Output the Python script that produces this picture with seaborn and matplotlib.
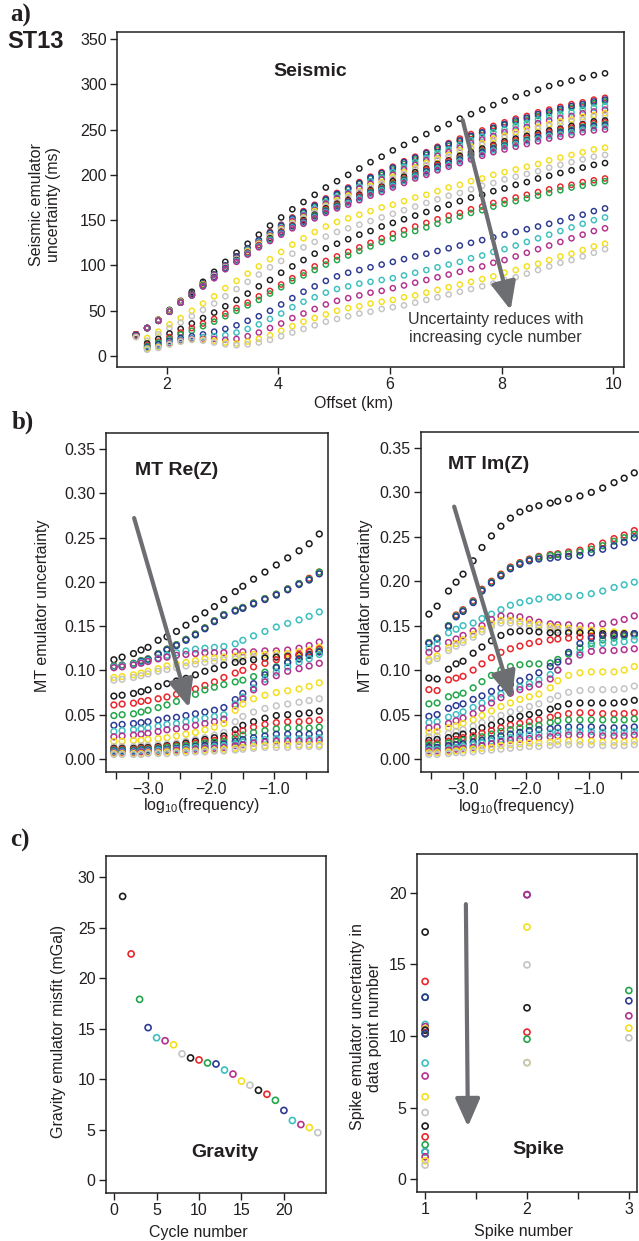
import pandas as pd
import matplotlib
matplotlib.use("Agg")
import matplotlib.pyplot as plt
import seaborn as sns

# colour of each cycle (R default palette, repeats every 8 cycles)
palette8 = ["#1c1c1c", "#e8262b", "#22a64a", "#2c3a92",
            "#3dbfc0", "#b3318e", "#f3df1f", "#c4c4c4"]

# ---- a) seismic emulator uncertainty (ms) per cycle --------------------
seis_offset = [1.45, 1.65, 1.85, 2.05, 2.25, 2.45, 2.65, 2.85, 3.05, 3.25, 3.45,
               3.65, 3.85, 4.05, 4.25, 4.45, 4.65, 4.85, 5.05, 5.25, 5.45, 5.65,
               5.85, 6.05, 6.25, 6.45, 6.65, 6.85, 7.05, 7.25, 7.45, 7.65, 7.85,
               8.05, 8.25, 8.45, 8.65, 8.85, 9.05, 9.25, 9.45, 9.65, 9.85]
seis_c01 = [24, 31, 40, 51, 61, 71, 82, 93, 104, 114, 124, 134, 144, 153, 162, 170, 178, 186, 193, 200, 207, 214, 220, 227, 233, 239, 245, 251, 256, 262, 267, 272, 277, 282, 286, 290, 294, 298, 301, 304, 307, 310, 312]
seis_c02 = [24, 31, 40, 50, 60, 69, 80, 90, 100, 110, 119, 128, 137, 145, 153, 160, 167, 174, 180, 186, 192, 198, 203, 209, 215, 220, 225, 231, 235, 240, 245, 249, 254, 258, 262, 265, 269, 272, 275, 278, 280, 283, 285]
seis_c03 = [24, 31, 40, 50, 60, 69, 80, 90, 100, 109, 118, 127, 136, 144, 152, 158, 165, 172, 178, 184, 190, 196, 200, 206, 212, 217, 222, 228, 232, 237, 242, 246, 251, 255, 258, 261, 265, 268, 271, 274, 276, 279, 281]
seis_c04 = [24, 31, 40, 50, 60, 69, 80, 90, 100, 110, 119, 128, 136, 144, 152, 159, 166, 173, 179, 185, 191, 197, 202, 208, 214, 219, 224, 230, 234, 238, 243, 247, 252, 256, 260, 263, 267, 270, 273, 276, 278, 281, 283]
seis_c05 = [24, 31, 40, 50, 60, 68, 79, 89, 99, 108, 117, 126, 134, 142, 150, 156, 163, 170, 176, 181, 187, 193, 197, 203, 209, 214, 219, 224, 228, 233, 238, 242, 247, 250, 254, 257, 261, 264, 267, 269, 272, 274, 276]
seis_c06 = [24, 31, 40, 50, 60, 68, 79, 89, 99, 108, 116, 125, 133, 141, 149, 155, 161, 168, 174, 179, 185, 190, 195, 200, 206, 211, 216, 221, 225, 230, 235, 239, 243, 247, 250, 253, 257, 260, 263, 265, 268, 270, 272]
seis_c07 = [24, 31, 40, 50, 60, 68, 79, 88, 98, 107, 116, 124, 132, 140, 147, 153, 160, 166, 172, 177, 182, 188, 192, 198, 203, 208, 213, 218, 222, 227, 231, 235, 240, 243, 247, 250, 253, 256, 259, 261, 264, 266, 268]
seis_c08 = [24, 31, 39, 49, 59, 68, 78, 88, 98, 107, 115, 123, 131, 139, 146, 152, 158, 165, 170, 175, 181, 186, 190, 196, 201, 206, 211, 216, 220, 225, 229, 233, 237, 241, 244, 247, 251, 254, 256, 259, 261, 264, 265]
seis_c09 = [24, 31, 39, 49, 59, 68, 78, 87, 97, 106, 114, 122, 130, 137, 144, 150, 156, 163, 168, 172, 178, 183, 187, 193, 198, 203, 207, 212, 216, 221, 225, 229, 233, 237, 240, 243, 246, 249, 251, 254, 256, 259, 260]
seis_c10 = [24, 31, 39, 49, 59, 67, 78, 87, 97, 105, 114, 122, 129, 137, 144, 149, 155, 162, 167, 171, 177, 182, 186, 191, 196, 201, 206, 211, 215, 219, 223, 227, 232, 235, 238, 241, 244, 247, 250, 252, 255, 257, 258]
seis_c11 = [24, 31, 39, 49, 59, 67, 78, 87, 97, 105, 113, 121, 129, 136, 143, 148, 155, 161, 166, 170, 175, 181, 185, 190, 195, 200, 204, 209, 213, 218, 222, 226, 230, 233, 236, 239, 242, 245, 248, 250, 253, 255, 256]
seis_c12 = [24, 31, 39, 49, 59, 67, 77, 87, 97, 105, 113, 121, 128, 136, 143, 148, 154, 160, 165, 170, 175, 180, 184, 189, 194, 199, 204, 209, 213, 217, 221, 225, 229, 232, 235, 238, 242, 245, 247, 249, 252, 254, 255]
seis_c13 = [24, 31, 39, 49, 59, 67, 77, 86, 96, 105, 113, 121, 128, 135, 142, 147, 153, 159, 164, 169, 174, 179, 183, 188, 193, 198, 202, 207, 211, 215, 219, 223, 227, 231, 234, 237, 240, 243, 245, 247, 250, 252, 253]
seis_c14 = [24, 31, 39, 49, 59, 67, 77, 86, 96, 104, 112, 120, 127, 134, 141, 146, 152, 158, 163, 167, 172, 177, 181, 186, 191, 196, 200, 205, 209, 213, 217, 221, 225, 228, 231, 234, 237, 240, 242, 244, 247, 249, 250]
seis_c15 = [24, 20, 27, 35, 42, 50, 58, 66, 75, 83, 91, 99, 107, 115, 123, 130, 137, 143, 148, 152, 156, 160, 164, 167, 171, 175, 178, 182, 186, 189, 193, 196, 200, 203, 206, 209, 212, 216, 219, 222, 225, 228, 230]
seis_c16 = [24, 17, 24, 31, 37, 44, 51, 58, 66, 74, 82, 90, 98, 105, 113, 120, 126, 132, 137, 141, 145, 149, 153, 157, 161, 165, 169, 173, 177, 180, 184, 188, 191, 195, 198, 201, 204, 208, 211, 214, 217, 220, 222]
seis_c17 = [24, 14, 19, 25, 30, 36, 42, 48, 55, 62, 69, 77, 84, 92, 99, 106, 113, 119, 124, 129, 134, 138, 143, 147, 151, 155, 159, 163, 167, 171, 175, 178, 182, 185, 189, 192, 196, 199, 202, 205, 208, 211, 213]
seis_c18 = [24, 12, 16, 21, 26, 31, 36, 41, 47, 53, 59, 66, 72, 79, 86, 92, 99, 105, 110, 115, 120, 125, 130, 135, 139, 143, 147, 151, 155, 158, 162, 165, 169, 172, 175, 178, 181, 184, 187, 189, 192, 194, 196]
seis_c19 = [23, 11, 15, 19, 24, 28, 33, 38, 44, 50, 56, 62, 69, 76, 83, 89, 95, 101, 106, 111, 116, 121, 126, 130, 134, 138, 142, 146, 150, 154, 158, 161, 165, 168, 171, 174, 177, 180, 183, 186, 188, 191, 193]
seis_c20 = [23, 10, 13, 17, 20, 22, 24, 27, 30, 34, 39, 44, 50, 57, 64, 71, 77, 83, 88, 92, 95, 98, 101, 104, 107, 110, 113, 116, 119, 122, 125, 128, 131, 134, 137, 140, 143, 146, 149, 153, 156, 160, 163]
seis_c21 = [22, 9, 11, 15, 18, 20, 21, 22, 23, 26, 30, 35, 41, 47, 54, 60, 65, 70, 74, 77, 80, 82, 84, 86, 89, 92, 95, 98, 101, 104, 108, 111, 115, 118, 122, 126, 130, 134, 138, 142, 146, 150, 153]
seis_c22 = [22, 8, 10, 14, 17, 19, 19, 19, 18, 19, 22, 26, 31, 36, 42, 47, 52, 57, 61, 64, 67, 70, 72, 75, 78, 81, 84, 87, 90, 93, 96, 99, 103, 106, 110, 114, 118, 122, 126, 130, 134, 138, 141]
seis_c23 = [21, 8, 10, 13, 16, 18, 18, 17, 15, 14, 16, 19, 23, 28, 33, 38, 42, 46, 50, 53, 55, 58, 60, 62, 65, 67, 70, 73, 76, 79, 82, 85, 88, 92, 95, 99, 102, 106, 110, 113, 117, 121, 124]
seis_c24 = [21, 7, 9, 13, 16, 18, 17, 15, 13, 12, 13, 15, 18, 22, 26, 30, 34, 38, 41, 44, 47, 49, 52, 54, 56, 59, 62, 65, 68, 71, 74, 77, 80, 84, 87, 91, 95, 99, 103, 106, 110, 114, 118]

# ---- b) MT emulator uncertainty per cycle ------------------------------
mt_logf = [-3.54, -3.41, -3.23, -3.11, -3.00, -2.84, -2.70, -2.55, -2.40, -2.25, -2.10,
           -1.95, -1.80, -1.62, -1.50, -1.33, -1.15, -0.97, -0.79, -0.61, -0.45, -0.29]
re_c01 = [.112, .115, .119, .123, .126, .134, .138, .144, .151, .158, .165, .172, .180, .189, .195, .203, .211, .219, .227, .235, .243, .254]
re_c02 = [.105, .106, .108, .111, .113, .119, .124, .129, .135, .141, .148, .156, .163, .168, .171, .176, .181, .186, .192, .198, .204, .211]
re_c03 = [.105, .106, .108, .111, .113, .119, .124, .129, .135, .141, .148, .156, .163, .168, .171, .176, .181, .186, .192, .198, .203, .211]
re_c04 = [.104, .105, .107, .110, .112, .118, .123, .128, .134, .140, .147, .155, .162, .167, .170, .175, .180, .185, .191, .197, .202, .209]
re_c05 = [.104, .105, .107, .109, .111, .114, .117, .120, .122, .124, .125, .126, .127, .130, .134, .139, .144, .149, .153, .157, .161, .166]
re_c06 = [.103, .104, .106, .108, .110, .113, .115, .117, .118, .119, .120, .120, .120, .121, .121, .121, .122, .122, .123, .125, .128, .132]
re_c07 = [.092, .093, .095, .097, .099, .102, .105, .107, .109, .111, .113, .114, .115, .116, .117, .118, .118, .119, .119, .121, .123, .126]
re_c08 = [.089, .090, .092, .094, .096, .099, .101, .103, .105, .107, .109, .110, .112, .113, .114, .115, .115, .116, .117, .118, .120, .123]
re_c09 = [.071, .072, .074, .076, .078, .082, .085, .088, .091, .095, .099, .102, .106, .109, .110, .112, .114, .115, .116, .117, .118, .121]
re_c10 = [.061, .062, .063, .065, .066, .068, .070, .073, .076, .079, .083, .087, .092, .097, .100, .104, .108, .112, .115, .118, .121, .124]
re_c11 = [.049, .050, .051, .053, .055, .058, .061, .065, .069, .073, .078, .081, .084, .087, .089, .093, .098, .104, .109, .113, .117, .122]
re_c12 = [.038, .039, .040, .041, .042, .044, .046, .047, .049, .051, .053, .055, .058, .067, .074, .085, .095, .103, .109, .113, .117, .121]
re_c13 = [.031, .032, .033, .034, .035, .037, .039, .040, .042, .044, .046, .048, .050, .062, .070, .080, .090, .098, .104, .109, .113, .118]
re_c14 = [.025, .026, .027, .028, .029, .031, .033, .034, .036, .038, .040, .042, .045, .060, .068, .078, .087, .094, .099, .102, .105, .108]
re_c15 = [.020, .020, .021, .021, .022, .023, .024, .026, .028, .030, .033, .036, .040, .055, .062, .068, .072, .075, .077, .079, .082, .086]
re_c16 = [.014, .014, .014, .015, .015, .016, .017, .018, .020, .022, .024, .027, .030, .042, .048, .053, .057, .060, .062, .064, .066, .068]
re_c17 = [.012, .012, .012, .013, .013, .014, .015, .016, .018, .020, .022, .024, .026, .033, .038, .042, .046, .049, .050, .051, .052, .054]
re_c18 = [.011, .011, .011, .012, .012, .013, .014, .015, .016, .018, .020, .021, .023, .028, .032, .036, .039, .041, .042, .042, .043, .044]
re_c19 = [.010, .010, .010, .011, .011, .012, .013, .014, .015, .016, .018, .019, .020, .024, .027, .030, .032, .034, .035, .035, .035, .036]
re_c20 = [.009, .009, .009, .010, .010, .011, .011, .012, .013, .014, .015, .016, .017, .020, .022, .024, .026, .028, .028, .028, .028, .029]
re_c21 = [.008, .008, .008, .009, .009, .010, .010, .011, .012, .013, .013, .014, .015, .017, .019, .021, .022, .023, .023, .023, .023, .024]
re_c22 = [.007, .007, .007, .008, .008, .008, .009, .010, .010, .011, .012, .012, .013, .015, .016, .018, .019, .020, .020, .020, .020, .021]
re_c23 = [.006, .006, .006, .006, .007, .007, .008, .008, .009, .009, .010, .010, .011, .012, .013, .014, .015, .016, .016, .016, .016, .016]
re_c24 = [.005, .005, .005, .005, .006, .006, .006, .007, .007, .008, .008, .009, .009, .010, .011, .012, .013, .013, .013, .014, .014, .014]

im_c01 = [.163, .172, .189, .199, .208, .223, .238, .251, .262, .271, .278, .282, .285, .288, .290, .293, .296, .300, .305, .311, .316, .322]
im_c02 = [.131, .136, .150, .162, .168, .178, .191, .200, .208, .216, .221, .225, .228, .230, .231, .233, .235, .239, .243, .248, .252, .257]
im_c03 = [.131, .136, .150, .161, .167, .177, .190, .199, .207, .215, .220, .224, .227, .229, .230, .231, .233, .236, .240, .245, .249, .253]
im_c04 = [.130, .135, .149, .160, .166, .176, .189, .198, .206, .214, .219, .223, .225, .226, .227, .228, .229, .232, .236, .240, .244, .249]
im_c05 = [.125, .130, .142, .146, .150, .153, .158, .163, .168, .173, .176, .178, .180, .182, .182, .183, .184, .186, .189, .193, .196, .199]
im_c06 = [.120, .124, .131, .135, .139, .144, .150, .157, .161, .161, .160, .157, .154, .152, .151, .151, .150, .150, .152, .154, .157, .161]
im_c07 = [.112, .116, .125, .130, .134, .140, .146, .152, .156, .156, .155, .153, .151, .149, .148, .147, .146, .145, .144, .143, .142, .141]
im_c08 = [.110, .113, .122, .127, .131, .137, .143, .149, .153, .153, .152, .150, .148, .146, .145, .144, .143, .142, .141, .140, .139, .138]
im_c09 = [.091, .090, .101, .107, .110, .119, .126, .133, .139, .143, .144, .144, .143, .142, .142, .142, .142, .142, .141, .141, .141, .141]
im_c10 = [.078, .077, .089, .091, .093, .100, .107, .114, .120, .124, .127, .130, .132, .134, .135, .136, .137, .138, .139, .139, .140, .140]
im_c11 = [.062, .063, .070, .072, .074, .080, .087, .094, .100, .104, .106, .107, .107, .108, .112, .118, .125, .130, .134, .136, .138, .140]
im_c12 = [.048, .050, .057, .060, .062, .067, .071, .076, .080, .084, .088, .092, .097, .104, .109, .120, .130, .136, .139, .139, .140, .141]
im_c13 = [.041, .042, .047, .050, .053, .058, .063, .068, .073, .077, .081, .085, .089, .095, .100, .110, .120, .127, .130, .131, .132, .134]
im_c14 = [.035, .036, .040, .043, .046, .051, .057, .063, .069, .074, .078, .081, .084, .090, .100, .110, .117, .121, .122, .122, .123, .124]
im_c15 = [.030, .031, .035, .037, .040, .044, .049, .054, .059, .063, .067, .070, .073, .080, .088, .094, .097, .098, .098, .098, .100, .104]
im_c16 = [.025, .026, .029, .031, .033, .037, .041, .045, .049, .053, .056, .059, .062, .067, .071, .075, .077, .078, .078, .078, .079, .082]
im_c17 = [.021, .022, .024, .026, .028, .031, .035, .038, .042, .045, .048, .050, .052, .056, .059, .062, .063, .063, .063, .063, .064, .066]
im_c18 = [.018, .018, .020, .022, .024, .026, .029, .032, .035, .038, .040, .042, .044, .047, .049, .051, .052, .052, .051, .051, .051, .052]
im_c19 = [.016, .016, .018, .019, .021, .023, .025, .028, .031, .033, .035, .037, .038, .041, .043, .044, .044, .044, .044, .044, .044, .045]
im_c20 = [.013, .013, .015, .016, .017, .019, .021, .023, .026, .028, .030, .032, .033, .034, .035, .036, .036, .036, .035, .035, .035, .036]
im_c21 = [.011, .011, .012, .013, .014, .016, .018, .020, .022, .024, .026, .027, .028, .029, .030, .031, .031, .031, .030, .030, .030, .031]
im_c22 = [.009, .009, .010, .011, .012, .013, .015, .017, .019, .021, .022, .023, .024, .025, .026, .027, .027, .027, .026, .026, .026, .027]
im_c23 = [.007, .007, .008, .009, .010, .011, .012, .013, .015, .016, .017, .018, .018, .019, .020, .020, .020, .020, .019, .019, .019, .020]
im_c24 = [.005, .005, .006, .007, .007, .008, .009, .010, .011, .012, .013, .014, .014, .015, .016, .016, .016, .016, .015, .015, .015, .016]

# ---- c) gravity misfit and spike uncertainty ---------------------------
grav_cycle = list(range(1, 25))
grav_misfit = [28.1, 22.4, 17.9, 15.1, 14.1, 13.8, 13.4, 12.5, 12.1, 11.9, 11.6, 11.5,
               10.9, 10.5, 9.8, 9.4, 8.9, 8.5, 7.9, 6.9, 5.9, 5.5, 5.2, 4.7]

spike1_cycle = list(range(1, 25))
spike1_value = [17.25, 13.8, 12.7, 12.7, 10.8, 10.65, 10.5, 10.4, 10.4, 10.2, 10.15, 10.15,
                8.1, 7.2, 5.75, 4.65, 3.7, 2.95, 2.4, 1.9, 1.9, 1.56, 1.28, 0.98]
spike2_cycle = [12, 14, 15, 16, 17, 18, 19, 23, 24]
spike2_value = [19.86, 19.86, 17.6, 14.96, 11.96, 10.26, 9.77, 8.13, 8.13]
spike3_cycle = [19, 20, 22, 23, 24]
spike3_value = [13.17, 12.45, 11.4, 10.54, 9.86]

INK = "#231f20"
ARROW = "#6d6e71"
TICK_FS = 11.5
LABEL_FS = 11.5
TITLE_FS = 14


def to_long(xvals, curves):
    rows = []
    for cyc, ys in enumerate(curves, start=1):
        for x, y in zip(xvals, ys):
            rows.append({"cycle": cyc, "x": x, "y": y})
    return pd.DataFrame(rows)


def hollow_points(ax, df, size, lw=1.0):
    pal = {c: palette8[(c - 1) % 8] for c in df["cycle"].unique()}
    sns.scatterplot(data=df, x="x", y="y", hue="cycle", palette=pal, s=size,
                    legend=False, ax=ax, linewidth=0)
    pc = ax.collections[-1]
    pc.set_edgecolors(pc.get_facecolors())
    pc.set_facecolors("none")
    pc.set_linewidths(lw)


def frame(ax):
    for s in ax.spines.values():
        s.set_visible(True)
        s.set_linewidth(1.1)
        s.set_color(INK)
    ax.tick_params(direction="out", length=5, width=1, color=INK,
                   labelcolor=INK, labelsize=TICK_FS, pad=2.5)
    ax.grid(False)


def labels(ax, xlabel, ylabel, xpos, ypos):
    ax.set_xlabel(xlabel, fontsize=LABEL_FS, color=INK)
    ax.set_ylabel(ylabel, fontsize=LABEL_FS, color=INK, linespacing=1.1)
    ax.xaxis.set_label_coords(*xpos)
    ax.xaxis.label.set_va("center")
    ax.yaxis.set_label_coords(*ypos)
    ax.yaxis.label.set_va("center")


def gray_arrow(ax, start, tip):
    ax.annotate("", xy=tip, xytext=start,
                arrowprops=dict(arrowstyle="-|>,head_length=1.7,head_width=0.75",
                                lw=3, color=ARROW, shrinkA=0, shrinkB=0,
                                mutation_scale=10))


def plot_seismic(ax):
    curves = [seis_c01, seis_c02, seis_c03, seis_c04, seis_c05, seis_c06, seis_c07, seis_c08,
              seis_c09, seis_c10, seis_c11, seis_c12, seis_c13, seis_c14, seis_c15, seis_c16,
              seis_c17, seis_c18, seis_c19, seis_c20, seis_c21, seis_c22, seis_c23, seis_c24]
    hollow_points(ax, to_long(seis_offset, curves), size=14, lw=1.05)
    ax.set_xlim(1.11, 10.19)
    ax.set_ylim(-12, 357.6)
    ax.set_xticks([2, 4, 6, 8, 10])
    ax.set_yticks(range(0, 351, 50))
    frame(ax)
    labels(ax, "Offset (km)", "Seismic emulator\nuncertainty (ms)",
           (0.467, -0.110), (-0.142, 0.484))
    ax.text(3.91, 314, "Seismic", fontsize=TITLE_FS, weight="bold", color=INK,
            ha="left", va="center")
    gray_arrow(ax, (7.30, 260.5), (8.16, 50.8))
    ax.text(7.89, 30.5, "Uncertainty reduces with\nincreasing cycle number",
            fontsize=11.5, color="#333333", ha="center", va="center", linespacing=1.2)


def plot_mt(ax, curves, title, title_xy, arrow_from, arrow_to, ylab_x):
    hollow_points(ax, to_long(mt_logf, curves), size=17, lw=1.1)
    ax.set_xlim(-3.665, -0.152)
    ax.set_ylim(-0.0147, 0.368)
    ax.set_xticks([-3.5, -3.0, -2.5, -2.0, -1.5, -1.0, -0.5])
    ax.set_xticklabels(["", "\u22123.0", "", "\u22122.0", "", "\u22121.0", ""])
    ax.set_yticks([0, 0.05, 0.10, 0.15, 0.20, 0.25, 0.30, 0.35])
    ax.set_yticklabels(["0.00", "0.05", "0.10", "0.15", "0.20", "0.25", "0.30", "0.35"])
    frame(ax)
    labels(ax, "log$_{10}$(frequency)", "MT emulator uncertainty",
           (0.431, -0.100), (ylab_x, 0.49))
    ax.text(title_xy[0], title_xy[1], title, fontsize=TITLE_FS, weight="bold",
            color=INK, ha="left", va="center")
    gray_arrow(ax, arrow_from, arrow_to)


def plot_gravity(ax):
    df = pd.DataFrame({"cycle": grav_cycle, "x": grav_cycle, "y": grav_misfit})
    hollow_points(ax, df, size=19, lw=1.2)
    ax.set_xlim(-0.96, 24.96)
    ax.set_ylim(-1.28, 32.1)
    ax.set_xticks([0, 5, 10, 15, 20])
    ax.set_yticks([0, 5, 10, 15, 20, 25, 30])
    frame(ax)
    labels(ax, "Cycle number", "Gravity emulator misfit (mGal)",
           (0.418, -0.116), (-0.218, 0.478))
    ax.text(13.0, 2.77, "Gravity", fontsize=TITLE_FS, weight="bold", color=INK,
            ha="center", va="center")


def plot_spike(ax):
    df = pd.concat([
        pd.DataFrame({"cycle": spike1_cycle, "x": 1, "y": spike1_value}),
        pd.DataFrame({"cycle": spike2_cycle, "x": 2, "y": spike2_value}),
        pd.DataFrame({"cycle": spike3_cycle, "x": 3, "y": spike3_value}),
    ]).sort_values("cycle", kind="stable").reset_index(drop=True)
    hollow_points(ax, df, size=19, lw=1.2)
    ax.set_xlim(0.92, 3.08)
    ax.set_ylim(-0.9, 22.7)
    ax.set_xticks([1, 1.5, 2, 2.5, 3])
    ax.set_xticklabels(["1", "", "2", "", "3"])
    ax.set_yticks([0, 5, 10, 15, 20])
    frame(ax)
    labels(ax, "Spike number", "Spike emulator uncertainty in\ndata point number",
           (0.482, -0.118), (-0.232, 0.488))
    ax.text(2.108, 2.1, "Spike", fontsize=TITLE_FS, weight="bold", color=INK,
            ha="center", va="center")
    gray_arrow(ax, (1.40, 19.2), (1.42, 3.66))


def main():
    sns.set_style("ticks")
    plt.rcParams["font.family"] = ["Liberation Sans", "DejaVu Sans"]
    plt.rcParams["mathtext.fontset"] = "custom"
    plt.rcParams["mathtext.rm"] = "Liberation Sans"
    plt.rcParams["mathtext.default"] = "rm"

    W, H = 639, 1241
    fig = plt.figure(figsize=(W / 100, H / 100), dpi=100)

    def box(l, t, r, b):
        return fig.add_axes([l / W, 1 - b / H, (r - l) / W, (b - t) / H])

    ax_seis = box(117, 32, 624, 367)
    ax_re = box(106, 433, 328, 772)
    ax_im = box(421, 432, 643, 772)
    ax_grav = box(106, 856, 326, 1193)
    ax_spike = box(417, 854, 637, 1192)

    plot_seismic(ax_seis)
    plot_mt(ax_re, [re_c01, re_c02, re_c03, re_c04, re_c05, re_c06, re_c07, re_c08,
                    re_c09, re_c10, re_c11, re_c12, re_c13, re_c14, re_c15, re_c16,
                    re_c17, re_c18, re_c19, re_c20, re_c21, re_c22, re_c23, re_c24],
            "MT Re(Z)", (-3.206, 0.326), (-3.22, 0.272), (-2.35, 0.058), -0.284)
    plot_mt(ax_im, [im_c01, im_c02, im_c03, im_c04, im_c05, im_c06, im_c07, im_c08,
                    im_c09, im_c10, im_c11, im_c12, im_c13, im_c14, im_c15, im_c16,
                    im_c17, im_c18, im_c19, im_c20, im_c21, im_c22, im_c23, im_c24],
            "MT Im(Z)", (-3.237, 0.331), (-3.14, 0.284), (-2.23, 0.067), -0.252)
    plot_gravity(ax_grav)
    plot_spike(ax_spike)

    serif = dict(family=["Liberation Serif", "DejaVu Serif"], weight="bold",
                 fontsize=18, color=INK, ha="left", va="center")
    fig.text(10 / W, 1 - 15 / H, "a)", **serif)
    fig.text(12 / W, 1 - 422 / H, "b)", **serif)
    fig.text(10 / W, 1 - 840 / H, "c)", **serif)
    fig.text(7 / W, 1 - 42 / H, "ST13", fontsize=17, weight="bold", color=INK,
             ha="left", va="center")

    fig.savefig("out.png", dpi=100)
    plt.close(fig)


if __name__ == "__main__":
    main()
